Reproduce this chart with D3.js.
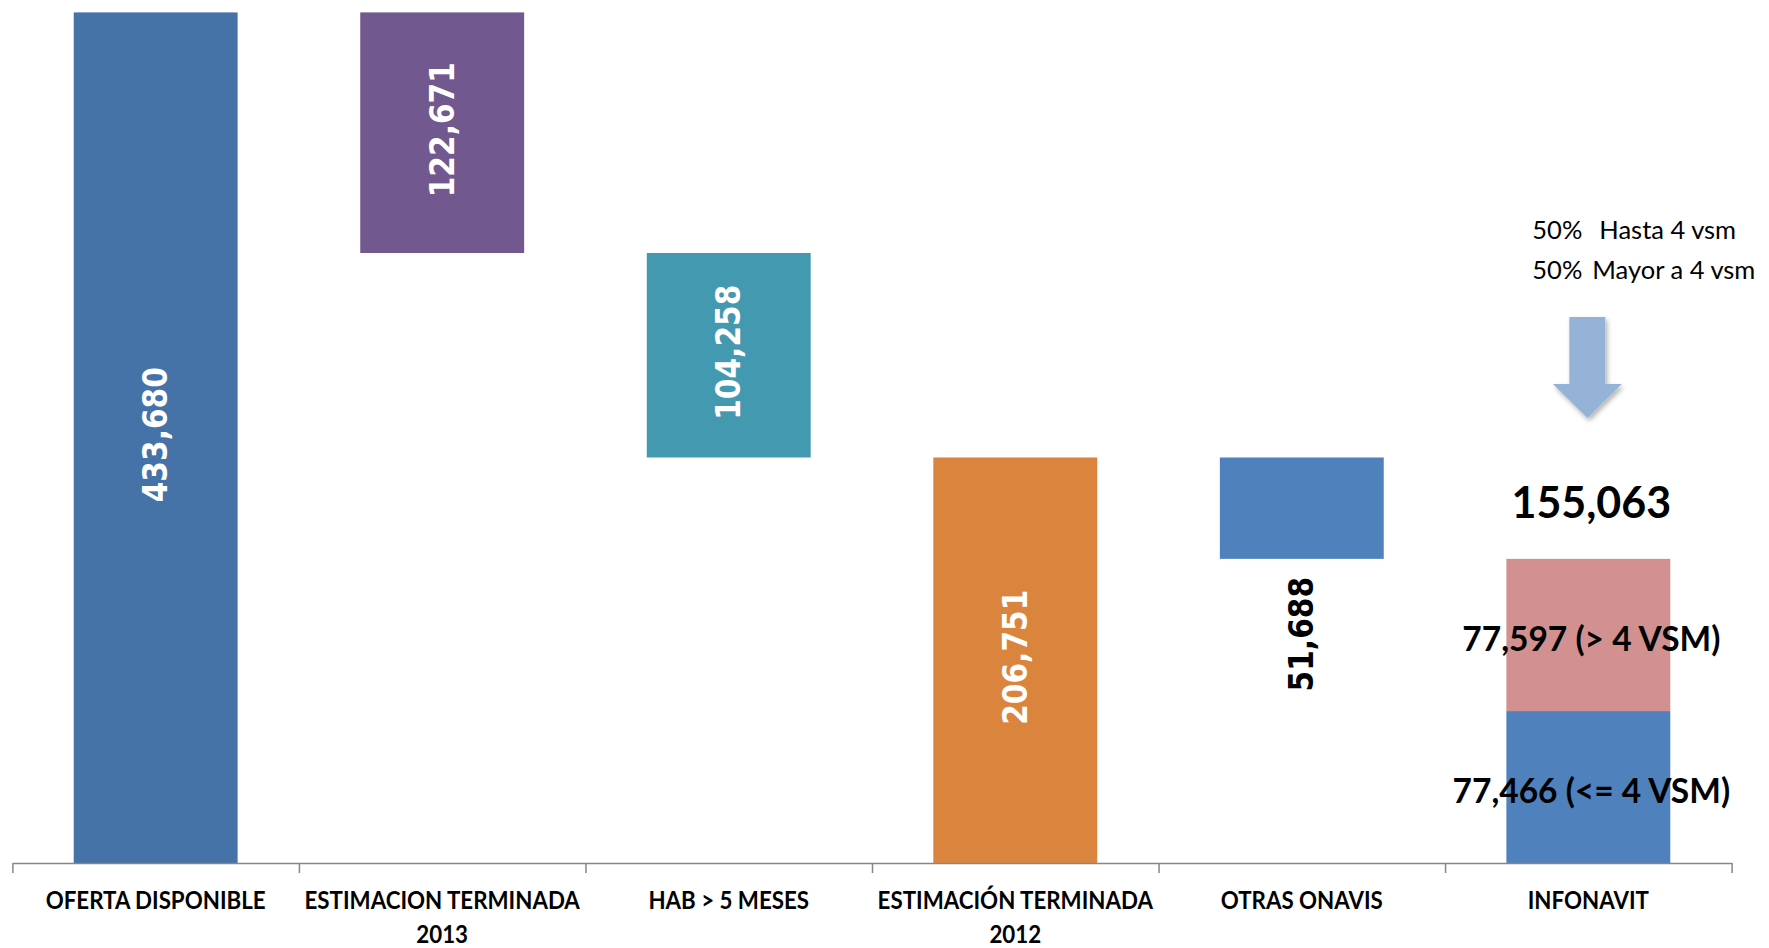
<!DOCTYPE html>
<html>
<head>
<meta charset="utf-8">
<script src="https://cdn.jsdelivr.net/npm/d3@7"></script>
<style>
  html, body { margin: 0; padding: 0; background: #ffffff; }
  svg { display: block; }
</style>
</head>
<body>
<svg id="chart" width="1769" height="948"></svg>
<script>
// Housing supply waterfall: available offer minus deductions, ending with the INFONAVIT split.
const categories = [
  "OFERTA DISPONIBLE",
  "ESTIMACION TERMINADA 2013",
  "HAB > 5 MESES",
  "ESTIMACIÓN TERMINADA 2012",
  "OTRAS ONAVIS",
  "INFONAVIT"
];
const stepValues = [433680, 122671, 104258, 206751, 51688];
const stepKinds = ["total", "decrease", "decrease", "total", "decrease"];
const stepColors = ["#4572A7", "#71588F", "#4399B0", "#DB843E", "#4F81BD"];
const stepLabelColors = ["#ffffff", "#ffffff", "#ffffff", "#ffffff", "#000000"];

const infonavitParts = [77466, 77597];
const infonavitPartNames = ["(<= 4 VSM)", "(> 4 VSM)"];
const infonavitColors = ["#4F81BD", "#D29190"];
const infonavitTotal = 155063;

const notePercents = ["50%", "50%"];
const noteTexts = ["Hasta 4 vsm", "Mayor a 4 vsm"];

const fmt = d3.format(",");

const svg = d3.select("#chart");
const plot = { left: 12.4, right: 1731.6, top: 12.4, bottom: 863 };

const x = d3.scaleBand()
  .domain(categories)
  .range([plot.left, plot.right])
  .paddingInner(0.428)
  .paddingOuter(0.214);

const y = d3.scaleLinear()
  .domain([0, stepValues[0]])
  .range([plot.bottom, plot.top]);

// running totals for the floating steps
let running = 0;
const steps = stepValues.map((v, i) => {
  let lo, hi;
  if (stepKinds[i] === "total") { lo = 0; hi = v; running = v; }
  else { hi = running; lo = running - v; running = lo; }
  return { cat: categories[i], value: v, lo, hi, color: stepColors[i], labelColor: stepLabelColors[i] };
});

const valueFont = "'DejaVu Sans Condensed', 'DejaVu Sans', sans-serif";

// step bars
svg.append("g").selectAll("rect")
  .data(steps)
  .join("rect")
  .attr("x", d => x(d.cat))
  .attr("width", x.bandwidth())
  .attr("y", d => y(d.hi))
  .attr("height", d => y(d.lo) - y(d.hi))
  .attr("fill", d => d.color);

// rotated value labels: inside the bar when white, below the bar otherwise
svg.append("g").selectAll("text")
  .data(steps)
  .join("text")
  .attr("transform", d => {
    const cx = x(d.cat) + x.bandwidth() / 2;
    if (d.labelColor === "#ffffff") {
      return `translate(${cx},${(y(d.lo) + y(d.hi)) / 2 - 3}) rotate(-90)`;
    }
    return `translate(${cx},${y(d.lo) + 18}) rotate(-90)`;
  })
  .attr("text-anchor", d => d.labelColor === "#ffffff" ? "middle" : "end")
  .attr("dominant-baseline", "central")
  .attr("font-family", valueFont)
  .attr("font-weight", "bold")
  .attr("font-size", 33)
  .attr("fill", d => d.labelColor)
  .text(d => fmt(d.value));

// INFONAVIT stacked bar
const lastCat = categories[categories.length - 1];
const cx6 = x(lastCat) + x.bandwidth() / 2;
const stack = [];
let acc = 0;
infonavitParts.forEach((v, i) => {
  stack.push({ lo: acc, hi: acc + v, value: v, name: infonavitPartNames[i], color: infonavitColors[i] });
  acc += v;
});

const labelFont = "'Lato', 'Open Sans', sans-serif";

svg.append("g").selectAll("rect")
  .data(stack)
  .join("rect")
  .attr("x", x(lastCat))
  .attr("width", x.bandwidth())
  .attr("y", d => y(d.hi))
  .attr("height", d => y(d.lo) - y(d.hi))
  .attr("fill", d => d.color);

svg.append("g").selectAll("text")
  .data(stack)
  .join("text")
  .attr("x", cx6 + 3)
  .attr("y", d => (y(d.lo) + y(d.hi)) / 2 + 3)
  .attr("text-anchor", "middle")
  .attr("dominant-baseline", "central")
  .attr("font-family", labelFont)
  .attr("font-weight", "bold")
  .attr("font-size", 33.5)
  .attr("fill", "#000")
  .text(d => `${fmt(d.value)} ${d.name}`);

svg.append("text")
  .attr("x", cx6 + 3)
  .attr("y", y(infonavitTotal) - 41)
  .attr("text-anchor", "middle")
  .attr("font-family", labelFont)
  .attr("font-weight", "bold")
  .attr("font-size", 43)
  .attr("fill", "#000")
  .text(fmt(infonavitTotal));

// split note and arrow above the INFONAVIT bar
const note = svg.append("g").attr("font-family", labelFont).attr("font-size", 25.5).attr("fill", "#000");
const noteDescX = [67, 60];
notePercents.forEach((p, i) => {
  const by = 239 + i * 40;
  note.append("text").attr("x", cx6 - 56).attr("y", by).text(p);
  note.append("text").attr("x", cx6 - 56 + noteDescX[i]).attr("y", by).text(noteTexts[i]);
});

const defs = svg.append("defs");
const shadow = defs.append("filter").attr("id", "arrowShadow")
  .attr("x", "-30%").attr("y", "-30%").attr("width", "160%").attr("height", "160%");
shadow.append("feDropShadow")
  .attr("dx", 2).attr("dy", 3).attr("stdDeviation", 2.5)
  .attr("flood-color", "#000").attr("flood-opacity", 0.3);

const ax = cx6 - 1;
const arrowPts = [
  [ax - 18, 317], [ax + 18, 317], [ax + 18, 384], [ax + 34.5, 384],
  [ax, 418], [ax - 34.5, 384], [ax - 18, 384]
];
svg.append("path")
  .attr("d", d3.line()(arrowPts) + "Z")
  .attr("fill", "#95B3D7")
  .attr("filter", "url(#arrowShadow)");

// category axis with ticks between categories
const tickScale = d3.scaleLinear().domain([0, categories.length]).range([plot.left, plot.right]);
const axisG = svg.append("g")
  .attr("transform", `translate(0,${plot.bottom})`)
  .call(d3.axisBottom(tickScale)
    .tickValues(d3.range(categories.length + 1))
    .tickFormat("")
    .tickSize(10)
    .tickSizeOuter(0));
axisG.select(".domain").attr("stroke", "#868686").attr("stroke-width", 1.5);
axisG.selectAll(".tick line").attr("stroke", "#868686").attr("stroke-width", 1.5);

// category labels in narrowed lettering, wrapped to the band step
const catFont = "'Lato', 'Open Sans', sans-serif";
const condense = 0.93;
const catG = svg.append("g")
  .attr("font-family", catFont)
  .attr("font-weight", "bold")
  .attr("font-size", 24)
  .attr("fill", "#000")
  .attr("text-anchor", "middle");

categories.forEach(c => {
  const cx = x(c) + x.bandwidth() / 2;
  const t = catG.append("text").attr("x", cx).attr("y", 909)
    .attr("transform", `translate(${cx},0) scale(${condense},1) translate(${-cx},0)`);
  const words = c.split(" ");
  const maxW = (x.step() + 10) / condense;
  let line = [];
  let tspan = t.append("tspan").attr("x", cx).attr("dy", 0);
  words.forEach(w => {
    line.push(w);
    tspan.text(line.join(" "));
    if (tspan.node().getComputedTextLength() > maxW && line.length > 1) {
      line.pop();
      tspan.text(line.join(" "));
      line = [w];
      tspan = t.append("tspan").attr("x", cx).attr("dy", 34).text(w);
    }
  });
});
</script>
</body>
</html>
